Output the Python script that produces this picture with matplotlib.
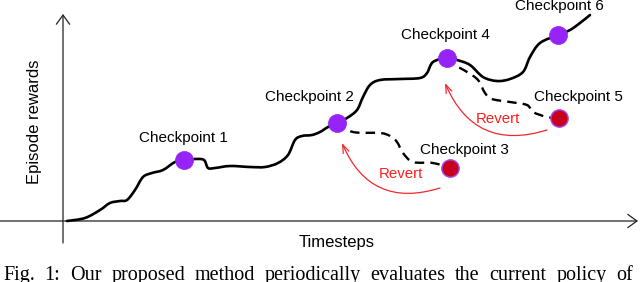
import matplotlib
matplotlib.use('Agg')
import matplotlib.pyplot as plt
from matplotlib.patches import FancyArrowPatch, PathPatch
from matplotlib.path import Path
import numpy as np

# courbe principale (timesteps, reward)
main_t = [4, 22, 37, 47, 57, 64, 72, 80, 89, 100, 112, 121, 132, 141, 145, 152,
          167, 187, 202, 215, 225, 232, 239, 249, 257, 265, 274, 284, 294, 300,
          307, 317, 337, 357, 364, 370, 384, 394, 407, 420, 434, 447, 460, 467,
          477, 495, 507, 517, 527]
main_r = [0, 3, 11, 18, 20, 21, 31, 44, 48, 51, 59, 61, 62, 61, 53, 53,
          55, 54, 54, 58, 66, 81, 85, 86, 89, 94, 98, 103, 111, 124,
          136, 141, 142, 143, 148, 159, 163, 161, 156, 144, 140, 142, 149, 164,
          178, 186, 191, 198, 206]

# branches abandonnees (pointilles)
branch1_t = [274, 290, 317, 327, 334, 340, 350, 370, 387]
branch1_r = [98, 89, 88, 85, 79, 68, 59, 58, 53]
branch2_t = [384, 392, 404, 415, 422, 429, 447, 464, 470, 484, 496]
branch2_r = [163, 156, 149, 141, 128, 122, 119, 116, 109, 104, 103]

# checkpoints
ckpt_names = ['Checkpoint 1', 'Checkpoint 2', 'Checkpoint 3',
              'Checkpoint 4', 'Checkpoint 5', 'Checkpoint 6']
ckpt_t = [121, 274, 387, 384, 496, 495]
ckpt_r = [61, 98, 53, 163, 103, 186]
ckpt_bad = [False, False, True, False, True, False]
label_t = [120, 246, 401, 382, 515, 496]
label_r = [83, 124, 71, 186, 124, 215]

# fleches "Revert" : (depart, arrivee)
revert_from = [(377, 33), (484, 91)]
revert_to = [(279, 78), (382, 138)]
revert_label = [(338, 47), (435, 102)]

caption = "Fig. 1: Our proposed method periodically evaluates the current policy of"

purple = '#9624f7'
red = '#c8001e'
arrow_red = '#f0282d'


def smooth_path(xs, ys):
    # Catmull-Rom -> Bezier, la courbe passe par chaque point lu
    p = np.column_stack([xs, ys]).astype(float)
    p = np.vstack([p[0], p, p[-1]])
    verts = [p[1]]
    codes = [Path.MOVETO]
    for i in range(1, len(p) - 2):
        c1 = p[i] + (p[i + 1] - p[i - 1]) / 6
        c2 = p[i + 1] - (p[i + 2] - p[i]) / 6
        verts += [c1, c2, p[i + 1]]
        codes += [Path.CURVE4] * 3
    return Path(verts, codes)


fig = plt.figure(figsize=(6.4, 2.82), dpi=100)
ax = fig.add_axes([0, 0, 1, 1])
ax.set_xlim(-63, 577)
ax.set_ylim(-61, 221)
ax.axis('off')

sans = 'Liberation Sans'

# axes avec fleches
for start, end in [((-63, 0), (575, 0)), ((0, -22), (0, 207))]:
    ax.annotate('', xy=end, xytext=start,
                arrowprops=dict(arrowstyle='->,head_length=0.55,head_width=0.4',
                                lw=0.9, color='#222222', mutation_scale=12,
                                shrinkA=0, shrinkB=0))
ax.text(274, -21, 'Timesteps', fontsize=12, family=sans, ha='center', va='center')
ax.text(-29, 99, 'Episode rewards', fontsize=12, family=sans, rotation=90,
        ha='center', va='center')

# courbes
ax.add_patch(PathPatch(smooth_path(main_t, main_r), fill=False, ec='black',
                       lw=1.9, joinstyle='round', capstyle='round', zorder=3))
for bt, br in [(branch1_t, branch1_r), (branch2_t, branch2_r)]:
    ax.add_patch(PathPatch(smooth_path(bt, br), fill=False, ec='black',
                           lw=1.7, linestyle=(0, (4, 2.6)), zorder=3))

for name, t, r, bad, lt, lr in zip(ckpt_names, ckpt_t, ckpt_r, ckpt_bad,
                                   label_t, label_r):
    if bad:
        ax.plot(t, r, 'o', ms=12.5, mfc=red, mec='#a050f0', mew=1.0, zorder=5)
    else:
        ax.plot(t, r, 'o', ms=13, mfc=purple, mec=purple, mew=0.5, zorder=5)
    ax.text(lt, lr, name, fontsize=11, family=sans, ha='center', va='center')

for start, end, pos in zip(revert_from, revert_to, revert_label):
    arr = FancyArrowPatch(start, end, connectionstyle='arc3,rad=-0.45',
                          arrowstyle='->,head_length=0.6,head_width=0.22',
                          mutation_scale=10, lw=0.9, color=arrow_red,
                          shrinkA=0, shrinkB=0, zorder=4)
    ax.add_patch(arr)
    ax.text(pos[0], pos[1], 'Revert', fontsize=10.8, family=sans,
            color='#ff1e1e', ha='center', va='center')

# legende justifiee en bas (coupee comme dans l'original)
renderer = fig.canvas.get_renderer()
words = caption.split()
items = [fig.text(0, 2 / 282, w, fontsize=14.5, family='Liberation Serif',
                  va='baseline', ha='left') for w in words]
widths = [it.get_window_extent(renderer).width for it in items]
left, right = 3, 633
gap = (right - left - sum(widths)) / (len(words) - 1)
x = left
for it, w in zip(items, widths):
    it.set_x(x / 640)
    x += w + gap

fig.savefig('out.png', dpi=100)
